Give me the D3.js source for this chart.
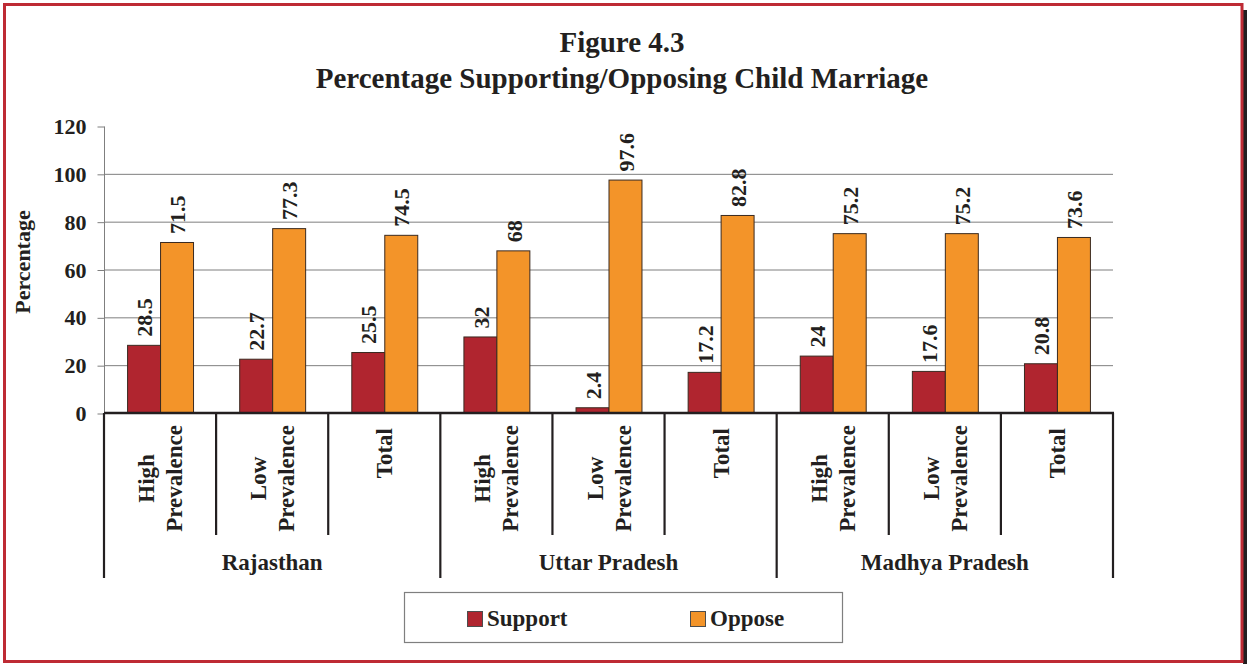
<!DOCTYPE html>
<html><head><meta charset="utf-8">
<script src="https://cdn.jsdelivr.net/npm/d3@7/dist/d3.min.js"></script>
<style>
html,body{margin:0;padding:0;background:#fff;}
svg text{font-family:"Liberation Serif","Times New Roman",serif;font-weight:bold;fill:#231f20;}
</style></head><body>
<svg id="c" width="1247" height="664"></svg>
<script>
const states = ["Rajasthan", "Uttar Pradesh", "Madhya Pradesh"];
const subCategories = ["High Prevalence", "Low Prevalence", "Total"];
const supportValues = [28.5, 22.7, 25.5, 32, 2.4, 17.2, 24, 17.6, 20.8];
const opposeValues = [71.5, 77.3, 74.5, 68, 97.6, 82.8, 75.2, 75.2, 73.6];
const seriesNames = ["Support", "Oppose"];
const seriesColors = ["#B0252F", "#F39429"];
const yTicks = [0, 20, 40, 60, 80, 100, 120];
const titleLines = ["Figure 4.3", "Percentage Supporting/Opposing Child Marriage"];
const yTitle = "Percentage";

const svg = d3.select("#c");

// frame
svg.append("rect").attr("x", 1243).attr("y", 10).attr("width", 4).attr("height", 654).attr("fill", "#231f20");
svg.append("rect").attr("x", 4.5).attr("y", 4.5).attr("width", 1237.5).attr("height", 657)
  .attr("fill", "none").attr("stroke", "#BE2A34").attr("stroke-width", 3);

// title
svg.append("text").attr("x", 622).attr("y", 52).attr("text-anchor", "middle").attr("font-size", 29).text(titleLines[0]);
svg.append("text").attr("x", 622).attr("y", 88).attr("text-anchor", "middle").attr("font-size", 29).text(titleLines[1]);

// data table
const cats = [];
states.forEach(s => subCategories.forEach(c => cats.push({state: s, sub: c, key: s + "|" + c})));
const rows = cats.map((c, i) => ({...c, values: [supportValues[i], opposeValues[i]]}));

const x0 = d3.scaleBand().domain(cats.map(c => c.key)).range([104, 1113]).paddingInner(0).paddingOuter(0);
const x1 = d3.scaleBand().domain(seriesNames).range([0, x0.bandwidth()]).paddingOuter(0.7).paddingInner(0);
const y = d3.scaleLinear().domain([0, 120]).range([413, 126]);

// gridlines
svg.append("g").selectAll("line").data(yTicks.filter(t => t > 0 && t < 120)).join("line")
  .attr("x1", 104).attr("x2", 1113).attr("y1", d => y(d) + 0.5).attr("y2", d => y(d) + 0.5)
  .attr("stroke", "#7f7f7f").attr("stroke-width", 1);

// y axis
const yAxis = d3.axisLeft(y).tickValues(yTicks).tickSize(7).tickPadding(11).tickFormat(d3.format("d"));
const ga = svg.append("g").attr("transform", "translate(104.5,0.5)").call(yAxis);
ga.select(".domain").attr("stroke", "#7f7f7f").attr("d", "M0," + y(120) + "V" + y(0));
ga.selectAll(".tick line").attr("stroke", "#7f7f7f");
ga.selectAll(".tick text").attr("font-size", 22).attr("font-family", "Liberation Serif").attr("font-weight", "bold").attr("fill", "#231f20");

// y title
svg.append("text").attr("transform", "translate(30,262) rotate(-90)").attr("text-anchor", "middle")
  .attr("font-size", 22).text(yTitle);

// bars
const g = svg.append("g");
const catG = g.selectAll("g.cat").data(rows).join("g").attr("class", "cat")
  .attr("transform", d => "translate(" + x0(d.key) + ",0)");
catG.selectAll("rect").data(d => d.values.map((v, i) => ({v, i}))).join("rect")
  .attr("x", d => x1(seriesNames[d.i]) + 0.5).attr("y", d => y(d.v) + 0.5)
  .attr("width", x1.bandwidth()).attr("height", d => y(0) - y(d.v))
  .attr("fill", d => seriesColors[d.i]).attr("stroke", "#3a2a20").attr("stroke-width", 1);
catG.selectAll("text").data(d => d.values.map((v, i) => ({v, i}))).join("text")
  .attr("transform", d => "translate(" + (x1(seriesNames[d.i]) + x1.bandwidth() / 2 + 1) + "," + (y(d.v) - 8) + ") rotate(-90)")
  .attr("dy", "0.35em").attr("font-size", 22).text(d => d.v);

// x axis line
svg.append("line").attr("x1", 104).attr("x2", 1114).attr("y1", 413).attr("y2", 413).attr("stroke", "#231f20").attr("stroke-width", 2.5);

// dividers
const bounds = d3.range(cats.length + 1);
svg.append("g").selectAll("line").data(bounds).join("line")
  .attr("x1", i => i < cats.length ? x0(cats[i].key) : 1113).attr("x2", i => i < cats.length ? x0(cats[i].key) : 1113)
  .attr("y1", 413).attr("y2", i => i % 3 === 0 ? 578 : 535)
  .attr("stroke", "#231f20").attr("stroke-width", 2.2);

// category labels
rows.forEach(r => {
  const cx = x0(r.key) + x0.bandwidth() / 2;
  const lines = r.sub.split(" ");
  const tmp = svg.append("g");
  const ts = lines.map(l => tmp.append("text").attr("font-size", 23).text(l));
  const L = d3.max(ts, t => t.node().getComputedTextLength());
  tmp.remove();
  const top = lines.length > 1 ? 425 : 428;
  lines.forEach((l, k) => {
    const off = (k - (lines.length - 1) / 2) * 28;
    svg.append("text").attr("transform", "translate(" + (cx + off) + "," + (top + L / 2) + ") rotate(-90)")
      .attr("text-anchor", "middle").attr("dy", "0.35em").attr("font-size", 23).text(l);
  });
});

// state labels
states.forEach((s, i) => {
  const a = x0(cats[i * 3].key), b = x0(cats[i * 3 + 2].key) + x0.bandwidth();
  svg.append("text").attr("x", (a + b) / 2).attr("y", 570).attr("text-anchor", "middle").attr("font-size", 23).text(s);
});

// legend
svg.append("rect").attr("x", 404.5).attr("y", 592.5).attr("width", 438).attr("height", 50)
  .attr("fill", "#fff").attr("stroke", "#7f7f7f").attr("stroke-width", 1.2);
const legX = [467, 690];
seriesNames.forEach((n, i) => {
  svg.append("rect").attr("x", legX[i] + 0.5).attr("y", 611.5).attr("width", 15).attr("height", 15)
    .attr("fill", seriesColors[i]).attr("stroke", "#4d4d4d").attr("stroke-width", 1);
  svg.append("text").attr("x", legX[i] + 20).attr("y", 626).attr("font-size", 23).text(n);
});
</script></body></html>
